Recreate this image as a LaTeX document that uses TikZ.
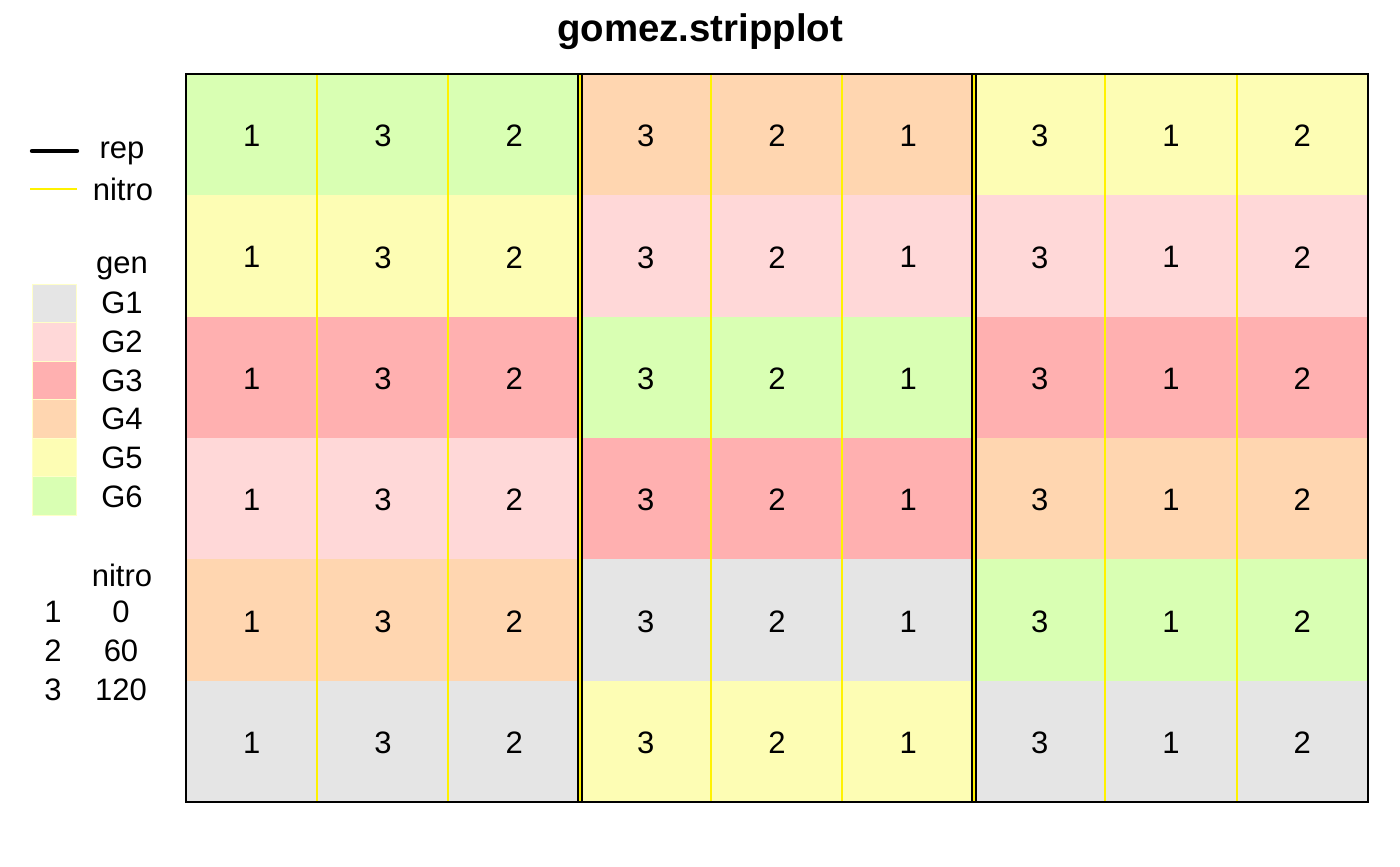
\documentclass[tikz,border=0pt]{standalone}
\usepackage{fontspec}
\setmainfont{Liberation Sans}
\definecolor{genA}{RGB}{229,229,229}
\definecolor{genB}{RGB}{255,216,216}
\definecolor{genC}{RGB}{255,176,176}
\definecolor{genD}{RGB}{255,214,176}
\definecolor{genE}{RGB}{253,253,180}
\definecolor{genF}{RGB}{217,255,179}
\definecolor{swatchline}{RGB}{255,255,200}
\begin{document}
\begin{tikzpicture}[
        x = 0.5pt, y = -0.5pt,
        lab/.style = {font = \fontsize{15.5}{18}\selectfont, inner sep = 0pt},
        nitroline/.style = {draw = yellow, line width = 0.8pt},
        repline/.style = {draw = black, line width = 0.8pt}
    ]
        \useasboundingbox (0,0) rectangle (1400,866);
        % plot cells, one column block per rep
        \foreach \rep/\cols in {0/{genF,genE,genC,genB,genD,genA}, 1/{genD,genB,genF,genC,genA,genE}, 2/{genE,genB,genC,genD,genF,genA}}
            \foreach \g [count = \r from 0] in \cols
                \fill[\g] ({186+394*\rep},{74+121.333*\r}) rectangle +(394,121.333);
        % nitro labels
        \foreach \rep/\a/\b/\c in {0/1/3/2, 1/3/2/1, 2/3/1/2}
            \foreach \r in {0,...,5} {
                \node[lab] (n\rep\r a) at ({186+394*\rep+65.67},{74+121.333*\r+62}) {\a};
                \node[lab] (n\rep\r b) at ({186+394*\rep+197},{74+121.333*\r+62}) {\b};
                \node[lab] (n\rep\r c) at ({186+394*\rep+328.33},{74+121.333*\r+62}) {\c};
            }
        % nitro boundaries
        \foreach \xx in {317,448,580,711,842,974,1105,1237}
            \draw[nitroline] (\xx,74) -- (\xx,802);
        % rep boundaries
        \foreach \xx in {580,974} {
            \draw[repline] (\xx-2.2,74) -- (\xx-2.2,802);
            \draw[repline] (\xx+2.2,74) -- (\xx+2.2,802);
        }
        \draw[line width = 0.8pt] (186,74) rectangle (1368,802);
        \node[font = \fontsize{19.2}{22}\selectfont\bfseries] (title) at (700,32) {gomez.stripplot};
        % legend
        \draw[line width = 2.2pt, line cap = round] (32,151) -- (77,151);
        \node[lab] (lrep) at (122,153) {rep};
        \draw[nitroline] (30,189) -- (77,189);
        \node[lab] (lnitro) at (123,189) {nitro};
        \node[lab] (lgen) at (122,268) {gen};
        \foreach \g [count = \i from 0] in {genA,genB,genC,genD,genE,genF} {
            \fill[\g, draw = swatchline, line width = 0.5pt] (32,{284+38.5*\i}) rectangle +(44,38.5);
            \node[lab] (lg\i) at (122,{303+38.7*\i}) {G\the\numexpr\i+1\relax};
        }
        \node[lab] (lnhead) at (122,575) {nitro};
        \foreach \n/\v [count = \i from 0] in {1/0, 2/60, 3/120} {
            \node[lab] (lnum\i) at (53,{612+39*\i}) {\n};
            \node[lab] (lval\i) at (121,{612+39*\i}) {\v};
        }
    \end{tikzpicture}
\end{document}
